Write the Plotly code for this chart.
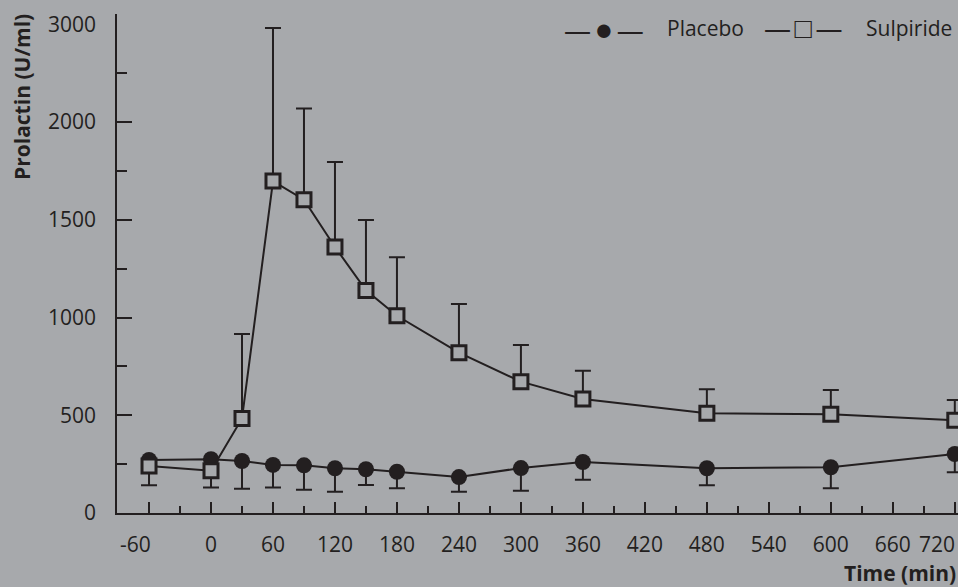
import plotly.graph_objects as go

# ---------------- data ----------------
time_min = [-60, 0, 30, 60, 90, 120, 150, 180, 240, 300, 360, 480, 600, 720]
placebo_mean = [271, 275, 266, 246, 244, 229, 224, 211, 184, 230, 261, 229, 234, 302]
placebo_se_minus = [129, 144, 142, 115, 125, 120, 81, 85, 75, 116, 91, 87, 108, 94]
sulpiride_mean = [240, 216, 484, 1698, 1603, 1361, 1139, 1009, 820, 672, 583, 510, 505, 474]
sulpiride_se_plus = [0, 0, 432, 1264, 537, 435, 360, 300, 249, 187, 145, 123, 124, 104]

x_tick_vals = list(range(-60, 721, 60))
x_tick_text = ["-60\u00a0\u00a0\u00a0\u00a0\u00a0", "0", "60", "120", "180", "240", "300", "360",
               "420", "480", "540", "600", "660", ""]
x_last_label = "720"  # drawn right-aligned at the 720 tick so it stays inside the page
x_minor_vals = list(range(-30, 721, 60))
y_tick_vals = [0, 500, 1000, 1500, 2000, 3000]
y_tick_text = ["0", "500", "1000", "1500", "2000", "3000"]
y_major_marks = [500, 1000, 1500, 2000]
y_minor_marks = [250, 750, 1250, 1750, 2500]

# broken y axis: above 2000 U/ml the scale is compressed by half
Y_BREAK = 2000
UPPER_FACTOR = 0.5
Y_TOP = 3104


def to_axis(v):
    return v if v <= Y_BREAK else Y_BREAK + (v - Y_BREAK) * UPPER_FACTOR


INK = "#231f20"
BG = "#a7a9ac"
FONT = "Open Sans"

p_y = [to_axis(v) for v in placebo_mean]
p_minus = [to_axis(m) - to_axis(m - e) for m, e in zip(placebo_mean, placebo_se_minus)]
s_y = [to_axis(v) for v in sulpiride_mean]
s_plus = [to_axis(m + e) - to_axis(m) for m, e in zip(sulpiride_mean, sulpiride_se_plus)]

fig = go.Figure()
fig.add_trace(go.Scatter(
    x=time_min, y=p_y, name="Placebo", mode="lines+markers",
    line=dict(color=INK, width=2),
    marker=dict(symbol="circle", size=16, color=INK),
    error_y=dict(type="data", symmetric=False, array=[0] * len(time_min),
                 arrayminus=p_minus, color=INK, thickness=2, width=8),
    cliponaxis=False, showlegend=False, yaxis="y",
))
fig.add_trace(go.Scatter(
    x=time_min, y=s_y, name="Sulpiride", mode="lines+markers",
    line=dict(color=INK, width=2),
    marker=dict(symbol="square", size=14, color=BG, line=dict(color=INK, width=3)),
    error_y=dict(type="data", symmetric=False, array=s_plus,
                 arrayminus=[0] * len(time_min), color=INK, thickness=2, width=8),
    cliponaxis=False, showlegend=False, yaxis="y2",
))

y_range = [0, to_axis(Y_TOP) + 1]

fig.update_layout(
    width=958, height=587,
    margin=dict(l=117, r=0, t=14, b=74, pad=0),
    paper_bgcolor=BG, plot_bgcolor=BG,
    font=dict(family=FONT, size=21, color=INK),
    showlegend=False,
    xaxis=dict(
        range=[-91.0, 723.1], showgrid=False, zeroline=False,
        showline=True, linecolor=INK, linewidth=2,
        tickmode="array", tickvals=x_tick_vals, ticktext=x_tick_text,
        ticks="inside", ticklen=11, tickwidth=1.5, tickcolor=INK,
        minor=dict(tickmode="array", tickvals=x_minor_vals, ticks="inside",
                   ticklen=7, tickwidth=1.5, tickcolor=INK),
        tickfont=dict(family=FONT, size=21, color=INK),
        ticklabelstandoff=12,
    ),
    yaxis=dict(
        range=y_range, showgrid=False, zeroline=False,
        showline=True, linecolor=INK, linewidth=2,
        tickmode="array", tickvals=y_major_marks,
        ticks="inside", ticklen=15, tickwidth=1.5, tickcolor=INK,
        showticklabels=False,
        minor=dict(tickmode="array",
                   tickvals=[to_axis(v) for v in y_minor_marks] + [to_axis(Y_TOP)],
                   ticks="inside", ticklen=10, tickwidth=1.5, tickcolor=INK),
    ),
    yaxis2=dict(
        overlaying="y", side="left", anchor="x", range=y_range,
        showgrid=False, zeroline=False, showline=False,
        tickmode="array", tickvals=[to_axis(v) for v in y_tick_vals], ticktext=y_tick_text,
        ticks="", tickfont=dict(family=FONT, size=21, color=INK),
        ticklabelstandoff=20,
    ),
)

W = 841.0  # plot width in px
H = 499.0  # plot height in px


def px_x(p):
    return (p - 117) / W


def px_y(p):
    return (513 - p) / H


DASH = "<span style='font-size:27px'>—</span>"
DOT = "<span style='font-size:31px'>●</span>"
BOX = "<span style='font-size:29px'>□</span>"
ann = [
    dict(text="<b>Prolactin (U/ml)</b>", x=px_x(22), y=px_y(97), textangle=-90,
         xanchor="center", yanchor="middle"),
    dict(text="<b>Time (min)</b>", x=1.0, y=px_y(573), xanchor="right", yanchor="middle"),
    dict(text=DASH + "\u2009" + DOT + "\u2009" + DASH, x=px_x(604), y=px_y(28),
         xanchor="center", yanchor="middle"),
    dict(text="Placebo", x=px_x(665), y=px_y(28), xanchor="left", yanchor="middle"),
    dict(text=DASH + "\u2009" + BOX + "\u2009" + DASH, x=px_x(803), y=px_y(26),
         xanchor="center", yanchor="middle"),
    dict(text="Sulpiride", x=px_x(864), y=px_y(28), xanchor="left", yanchor="middle"),
]
for a in ann:
    fig.add_annotation(xref="paper", yref="paper", showarrow=False,
                       font=dict(family=FONT, size=21, color=INK), **a)

# last x tick label, right-aligned at its tick
fig.add_annotation(xref="x", yref="paper", x=x_tick_vals[-1], y=px_y(544),
                   text=x_last_label, showarrow=False, xanchor="right", yanchor="middle",
                   xshift=2, font=dict(family=FONT, size=21, color=INK))

fig.write_html("out.html", config={"displayModeBar": False},
               post_script="document.body.style.margin='0';document.body.style.padding='0';")
